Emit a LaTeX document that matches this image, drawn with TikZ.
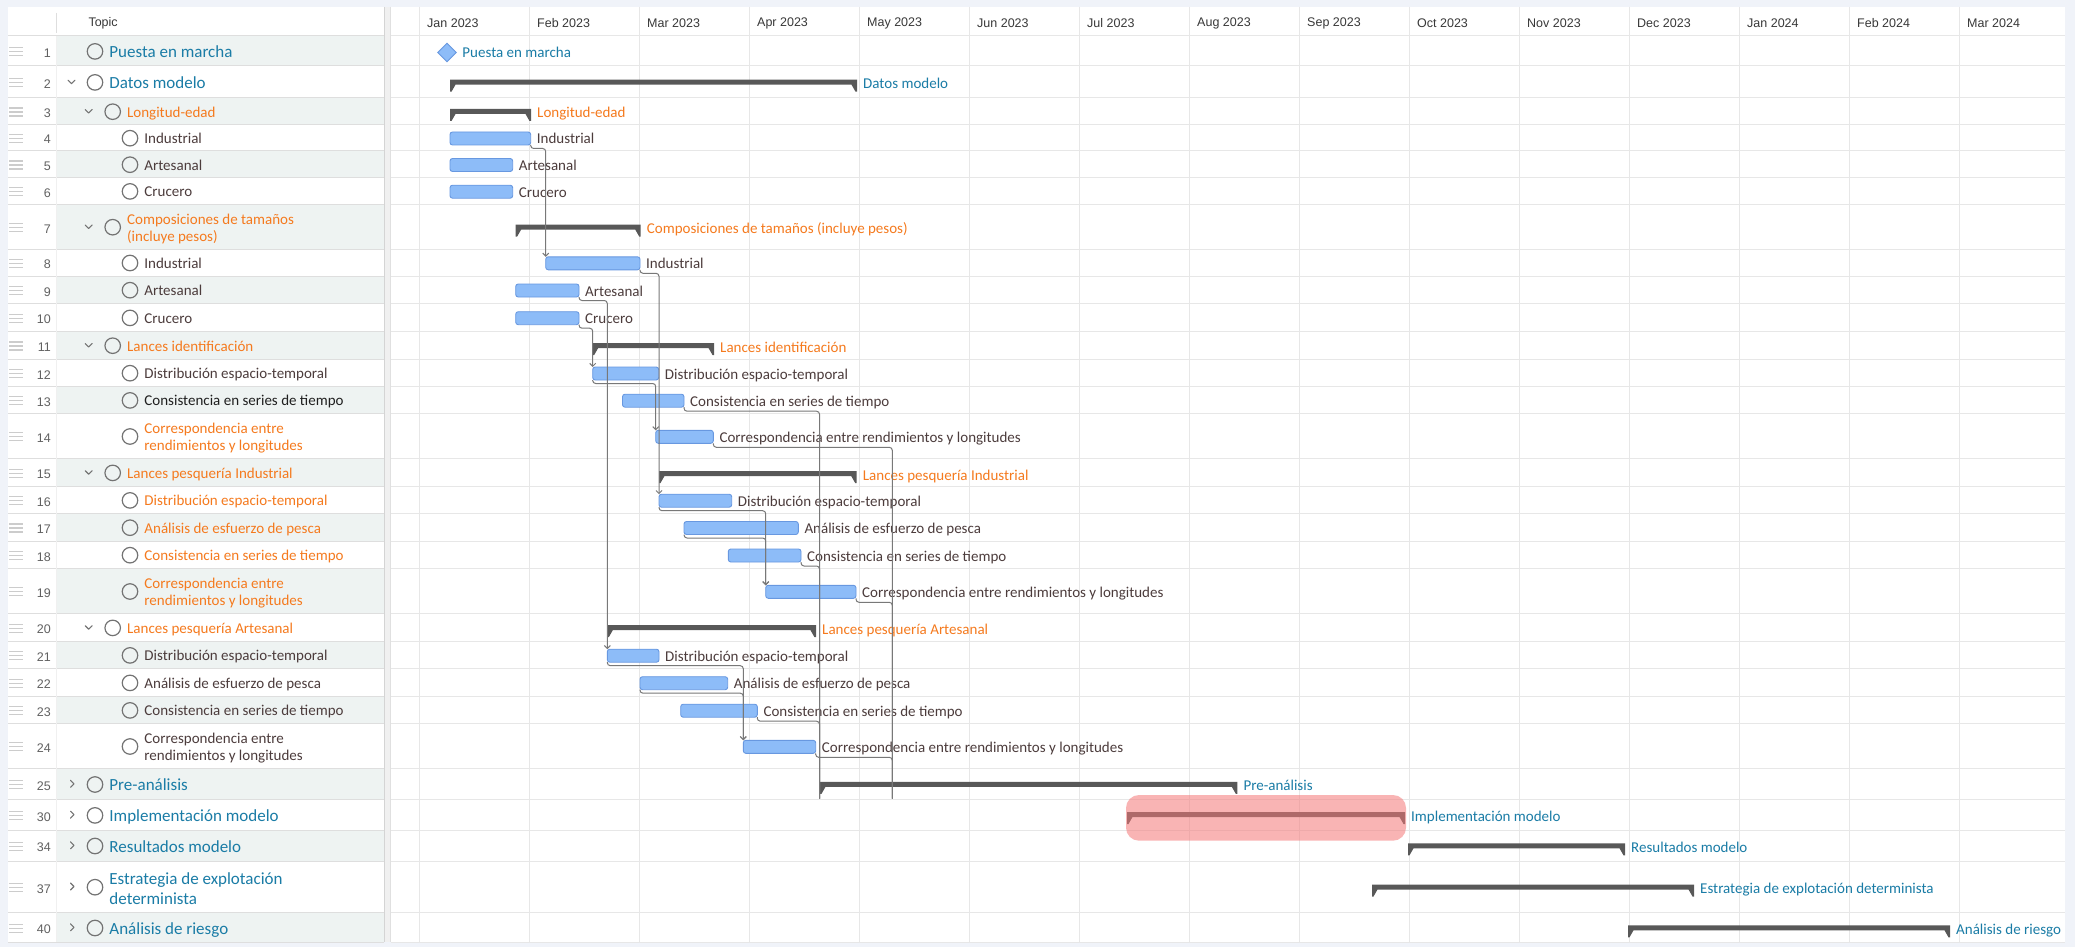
\documentclass[tikz,border=0pt]{standalone}
\usepackage{fontspec}
\setmainfont{Carlito}
\newfontfamily\uifont{Liberation Sans}
\usetikzlibrary{positioning,shapes.geometric,arrows.meta}

\definecolor{topicblue}{RGB}{26,124,166}
\definecolor{topicorange}{RGB}{245,122,30}
\definecolor{topicdark}{RGB}{76,60,60}
\definecolor{taskfill}{RGB}{141,188,248}
\definecolor{taskline}{RGB}{104,152,224}
\definecolor{sumgray}{RGB}{88,88,88}
\definecolor{connc}{RGB}{120,120,120}
\definecolor{rowshade}{RGB}{238,243,242}
\definecolor{gridc}{RGB}{231,231,231}
\definecolor{rulec}{RGB}{222,222,222}
\definecolor{framec}{RGB}{240,243,249}
\definecolor{hlpink}{RGB}{245,120,120}

\tikzset{
  hdr/.style={font=\uifont\fontsize{12.5}{15}\selectfont, text=black!78, inner sep=0pt, anchor=west},
  numtxt/.style={font=\uifont\fontsize{12.5}{15}\selectfont, text=black!62, inner sep=0pt, anchor=east},
  handle/.style={draw=black!20, line width=1.2pt},
  chev/.style={draw=black!55, line width=1.1pt, line cap=round, line join=round},
  ring/.style={circle, draw=black!55, line width=1.2pt, minimum size=15.5pt, inner sep=0pt, outer sep=0pt},
  lvone/.style={font=\fontsize{17}{20.7}\selectfont, text=topicblue, inner sep=0pt, text height=15pt, text depth=3pt},
  lvonetwo/.style={font=\fontsize{17}{20.7}\selectfont, text=topicblue, inner sep=0pt, align=left, yshift=-1.5pt},
  lvrest/.style={font=\fontsize{15}{17.3}\selectfont, inner sep=0pt, text height=14pt, text depth=3pt},
  lvresttwo/.style={font=\fontsize{15}{17.3}\selectfont, inner sep=0pt, align=left, yshift=-1.5pt},
  task/.style={draw=taskline, fill=taskfill, line width=0.9pt, rounded corners=2.5pt, minimum height=13pt, inner sep=0pt, outer sep=0pt, anchor=west},
  sumbox/.style={minimum height=12pt, inner sep=0pt, outer sep=0pt, anchor=north west},
  barlabel/.style={font=\fontsize{15}{17.3}\selectfont, text=topicdark, inner sep=0pt, text height=14pt, text depth=3pt},
  milestone/.style={diamond, fill=taskfill, draw=taskline, line width=0.9pt, minimum size=18.5pt, inner sep=0pt, outer sep=0pt},
  conn/.style={draw=connc, line width=1pt, rounded corners=3pt},
  arrowed/.style={-{Straight Barb[length=3pt,width=6pt]}},
}

% task bar: name, start, end, y, label
\newcommand{\taskbar}[5]{%
  \node[task, minimum width=#3pt-#2pt] (#1) at (#2,#4) {};
  \node[barlabel, right=6pt of #1] (#1l) {#5};}
% summary bar: name, start, end, top, colour, label
\newcommand{\sumbar}[6]{%
  \node[sumbox, minimum width=#3pt-#2pt] (#1) at (#2,#4) {};
  \fill[sumgray] (#1.north west) -- (#1.north east) -- (#1.south east)
    -- ([xshift=-1.5pt]#1.south east) -- ([xshift=-5.5pt,yshift=7pt]#1.south east)
    -- ([xshift=5.5pt,yshift=7pt]#1.south west) -- ([xshift=1.5pt]#1.south west)
    -- (#1.south west) -- cycle;
  \node[barlabel, text=#5, anchor=west] (#1l) at ([xshift=6pt,yshift=-3.5pt]#1.north east) {#6};}

\begin{document}
\begin{tikzpicture}[x=1pt, y=-1pt]
  \useasboundingbox (0,0) rectangle (2075,947);
  \fill[framec] (0,0) rectangle (2075,947);
  \fill[white] (8,7) rectangle (2065,942.3);
  % table shading
  \foreach \a/\b in {35.7/65.7, 97.7/124.3, 150.7/177.3, 204/249, 275.7/303.3, 331/359, 386/413.3, 458.3/486, 513.3/540.7, 568.3/613.3, 641/668.3, 696/723.3, 768.3/799.3, 830/860.7, 912.3/942.3}
    \fill[rowshade] (56,\a) rectangle (384,\b);
  % months
  \foreach \i in {0,...,14}
    \draw[gridc] (419.5+110*\i,7) -- (419.5+110*\i,942.3);
  \foreach \b in {35.7, 65.7, 97.7, 124.3, 150.7, 177.3, 204, 249, 275.7, 303.3, 331, 359, 386, 413.3, 458.3, 486, 513.3, 540.7, 568.3, 613.3, 641, 668.3, 696, 723.3, 768.3, 799.3, 830, 860.7, 912.3, 942.3} {
    \draw[rulec] (8,\b) -- (384,\b);
    \draw[gridc] (391,\b) -- (2065,\b);
  }
  \draw[rulec] (56,13) -- (56,33);
  \draw[black!6] (56,35.7) -- (56,942.3);
  \fill[black!6] (384,7) rectangle (391,942.3);
  \draw[black!17] (384.5,7) -- (384.5,942.3);
  \draw[black!12] (390.5,7) -- (390.5,942.3);

  \node[hdr] (topic) at (88.3,23) {Topic};
  \foreach \m [count=\i from 0] in {Jan 2023, Feb 2023, Mar 2023, Apr 2023, May 2023, Jun 2023, Jul 2023, Aug 2023, Sep 2023, Oct 2023, Nov 2023, Dec 2023, Jan 2024, Feb 2024, Mar 2024}
    \node[hdr] (mon\i) at (427+110*\i,23) {\m};

  % handles and row numbers
  \foreach \n/\c in {1/50.7, 2/81.7, 3/111, 4/137.5, 5/164, 6/190.7, 7/226.5, 8/262.3, 9/289.5, 10/317.2, 11/345, 12/372.5, 13/399.7, 14/435.8, 15/472.2, 16/499.7, 17/527, 18/554.5, 19/590.8, 20/627.2, 21/654.7, 22/682.2, 23/709.7, 24/745.8, 25/783.8, 30/814.7, 34/845.3, 37/886.5, 40/927.3} {
    \draw[handle] (9.3,{\c-3}) -- (23.3,{\c-3});
    \draw[handle] (9.3,{\c+1}) -- (23.3,{\c+1});
    \draw[handle] (9.3,{\c+5}) -- (23.3,{\c+5});
    \node[numtxt] (k\n) at (51,{\c+2.2}) {\n};
  }
  % chevrons
  \draw[chev] (68,80.2) -- (71.5,83.7) -- (75,80.2);
  \foreach \c in {111, 226.5, 345, 472.2, 627.2}
    \draw[chev] (85.2,{\c-1.5}) -- (88.7,{\c+2}) -- (92.2,{\c-1.5});
  \foreach \c in {783.8, 814.7, 845.3, 886.5, 927.3}
    \draw[chev] (70.5,{\c-3.5}) -- (74,\c) -- (70.5,{\c+3.5});

  % topics
  \node[ring] (c1) at (95,51.4) {};
  \node[lvone, right=6.5pt of c1] (n1) {Puesta en marcha};
  \node[ring] (c2) at (95,82.4) {};
  \node[lvone, right=6.5pt of c2] (n2) {Datos modelo};
  \node[ring] (c3) at (112.7,111.7) {};
  \node[lvrest, text=topicorange, right=6.5pt of c3] (n3) {Longitud-edad};
  \node[ring] (c4) at (130,138.2) {};
  \node[lvrest, text=topicdark, right=6.5pt of c4] (n4) {Industrial};
  \node[ring] (c5) at (130,164.7) {};
  \node[lvrest, text=topicdark, right=6.5pt of c5] (n5) {Artesanal};
  \node[ring] (c6) at (130,191.4) {};
  \node[lvrest, text=topicdark, right=6.5pt of c6] (n6) {Crucero};
  \node[ring] (c7) at (112.7,227.2) {};
  \node[lvresttwo, text=topicorange, right=6.5pt of c7] (n7) {Composiciones de tamaños\\(incluye pesos)};
  \node[ring] (c8) at (130,263) {};
  \node[lvrest, text=topicdark, right=6.5pt of c8] (n8) {Industrial};
  \node[ring] (c9) at (130,290.2) {};
  \node[lvrest, text=topicdark, right=6.5pt of c9] (n9) {Artesanal};
  \node[ring] (c10) at (130,317.9) {};
  \node[lvrest, text=topicdark, right=6.5pt of c10] (n10) {Crucero};
  \node[ring] (c11) at (112.7,345.7) {};
  \node[lvrest, text=topicorange, right=6.5pt of c11] (n11) {Lances identificación};
  \node[ring] (c12) at (130,373.2) {};
  \node[lvrest, text=topicdark, right=6.5pt of c12] (n12) {Distribución espacio-temporal};
  \node[ring] (c13) at (130,400.4) {};
  \node[lvrest, text=black!88, right=6.5pt of c13] (n13) {Consistencia en series de tiempo};
  \node[ring] (c14) at (130,436.5) {};
  \node[lvresttwo, text=topicorange, right=6.5pt of c14] (n14) {Correspondencia entre\\rendimientos y longitudes};
  \node[ring] (c15) at (112.7,472.9) {};
  \node[lvrest, text=topicorange, right=6.5pt of c15] (n15) {Lances pesquería Industrial};
  \node[ring] (c16) at (130,500.4) {};
  \node[lvrest, text=topicorange, right=6.5pt of c16] (n16) {Distribución espacio-temporal};
  \node[ring] (c17) at (130,527.7) {};
  \node[lvrest, text=topicorange, right=6.5pt of c17] (n17) {Análisis de esfuerzo de pesca};
  \node[ring] (c18) at (130,555.2) {};
  \node[lvrest, text=topicorange, right=6.5pt of c18] (n18) {Consistencia en series de tiempo};
  \node[ring] (c19) at (130,591.5) {};
  \node[lvresttwo, text=topicorange, right=6.5pt of c19] (n19) {Correspondencia entre\\rendimientos y longitudes};
  \node[ring] (c20) at (112.7,627.9) {};
  \node[lvrest, text=topicorange, right=6.5pt of c20] (n20) {Lances pesquería Artesanal};
  \node[ring] (c21) at (130,655.4) {};
  \node[lvrest, text=topicdark, right=6.5pt of c21] (n21) {Distribución espacio-temporal};
  \node[ring] (c22) at (130,682.9) {};
  \node[lvrest, text=topicdark, right=6.5pt of c22] (n22) {Análisis de esfuerzo de pesca};
  \node[ring] (c23) at (130,710.4) {};
  \node[lvrest, text=topicdark, right=6.5pt of c23] (n23) {Consistencia en series de tiempo};
  \node[ring] (c24) at (130,746.5) {};
  \node[lvresttwo, text=topicdark, right=6.5pt of c24] (n24) {Correspondencia entre\\rendimientos y longitudes};
  \node[ring] (c25) at (95,784.5) {};
  \node[lvone, right=6.5pt of c25] (n25) {Pre-análisis};
  \node[ring] (c30) at (95,815.4) {};
  \node[lvone, right=6.5pt of c30] (n30) {Implementación modelo};
  \node[ring] (c34) at (95,846) {};
  \node[lvone, right=6.5pt of c34] (n34) {Resultados modelo};
  \node[ring] (c37) at (95,887.2) {};
  \node[lvonetwo, right=6.5pt of c37] (n37) {Estrategia de explotación\\determinista};
  \node[ring] (c40) at (95,928) {};
  \node[lvone, right=6.5pt of c40] (n40) {Análisis de riesgo};

  % gantt bars
  \node[milestone] (m1) at (447,52.5) {};
  \node[barlabel, text=topicblue, right=6pt of m1] (m1l) {Puesta en marcha};
  \sumbar{s2}{450}{857}{79.7}{topicblue}{Datos modelo}
  \sumbar{s3}{450}{531}{109}{topicorange}{Longitud-edad}
  \taskbar{t4}{450}{530.7}{138.5}{Industrial}
  \taskbar{t5}{450}{512.7}{165}{Artesanal}
  \taskbar{t6}{450}{512.7}{191.7}{Crucero}
  \sumbar{s7}{515.7}{640.7}{224.5}{topicorange}{Composiciones de tamaños (incluye pesos)}
  \taskbar{t8}{545.7}{640}{263.3}{Industrial}
  \taskbar{t9}{515.7}{579}{290.5}{Artesanal}
  \taskbar{t10}{515.7}{579}{318.2}{Crucero}
  \sumbar{s11}{592.7}{714}{343}{topicorange}{Lances identificación}
  \taskbar{t12}{592.7}{658.7}{373.5}{Distribución espacio-temporal}
  \taskbar{t13}{622.5}{684}{400.7}{Consistencia en series de tiempo}
  \taskbar{t14}{655.7}{713.3}{436.8}{Correspondencia entre rendimientos y longitudes}
  \sumbar{s15}{659}{856.7}{471}{topicorange}{Lances pesquería Industrial}
  \taskbar{t16}{659}{731.7}{500.7}{Distribución espacio-temporal}
  \taskbar{t17}{684}{798.3}{528}{Análisis de esfuerzo de pesca}
  \taskbar{t18}{728.3}{801}{555.5}{Consistencia en series de tiempo}
  \taskbar{t19}{765.7}{856}{591.8}{Correspondencia entre rendimientos y longitudes}
  \sumbar{s20}{607.3}{816}{625.2}{topicorange}{Lances pesquería Artesanal}
  \taskbar{t21}{607.3}{659}{655.7}{Distribución espacio-temporal}
  \taskbar{t22}{640}{727.7}{683.2}{Análisis de esfuerzo de pesca}
  \taskbar{t23}{680.7}{757.3}{710.7}{Consistencia en series de tiempo}
  \taskbar{t24}{743.3}{815.7}{746.8}{Correspondencia entre rendimientos y longitudes}
  \sumbar{s25}{820}{1237.3}{781.8}{topicblue}{Pre-análisis}
  \sumbar{s30}{1127}{1405}{812}{topicblue}{Implementación modelo}
  \sumbar{s34}{1408}{1625}{843.3}{topicblue}{Resultados modelo}
  \sumbar{s37}{1372}{1694}{884.5}{topicblue}{Estrategia de explotación determinista}
  \sumbar{s40}{1628}{1950}{925.3}{topicblue}{Análisis de riesgo}

  % dependencies
  \coordinate (pa) at (819.5,798.5);
  \coordinate (pb) at (892.3,798.5);
  \draw[conn,arrowed] (t4.south east) -- ++(0,3.5) -| (t8.north west);
  \draw[conn,arrowed] (t9.south east) -- ++(0,3.5) -| (t21.north west);
  \draw[conn,arrowed] (t10.south east) -- ++(0,3.5) -| (t12.north west);
  \draw[conn,arrowed] (t8.south east) -- ++(0,3.5) -| (t16.north west);
  \draw[conn,arrowed] (t12.south west) -- ++(0,3.5) -| (t14.north west);
  \draw[conn,arrowed] (t16.south west) -- ++(0,3.5) -| (t19.north west);
  \draw[conn,arrowed] (t17.south west) -- ++(0,3.5) -| (t19.north west);
  \draw[conn,arrowed] (t21.south west) -- ++(0,3.5) -| (t24.north west);
  \draw[conn,arrowed] (t22.south west) -- ++(0,3.5) -| (t24.north west);
  \draw[conn] (t13.south east) -- ++(0,4) -| (pa);
  \draw[conn] (t18.south east) -- ++(0,4) -| (pa);
  \draw[conn] (t23.south east) -- ++(0,4) -| (pa);
  \draw[conn] (t14.south east) -- ++(0,4) -| (pb);
  \draw[conn] (t19.south east) -- ++(0,4) -| (pb);
  \draw[conn] (t24.south east) -- ++(0,4) -| (pb);

  % highlight
  \fill[hlpink, fill opacity=0.55, rounded corners=13pt] (1126,795) rectangle (1406,840.7);
\end{tikzpicture}
\end{document}
